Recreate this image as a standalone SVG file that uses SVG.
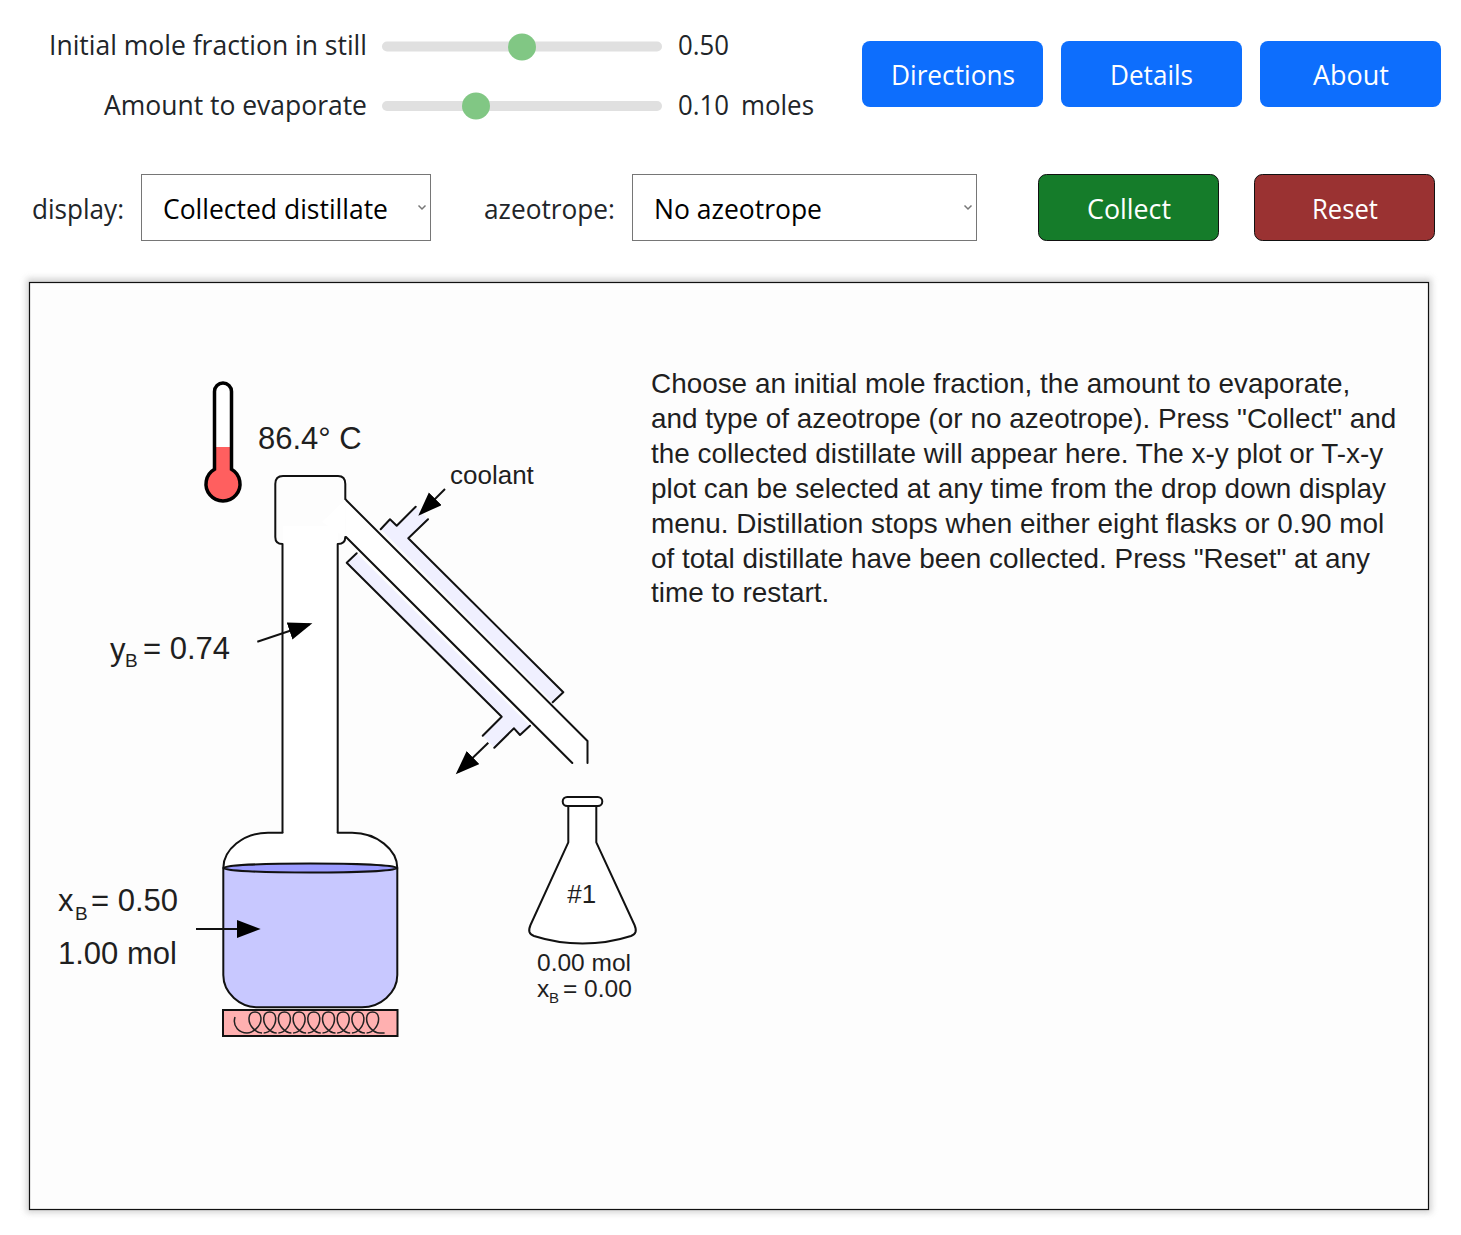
<svg xmlns="http://www.w3.org/2000/svg" width="1461" height="1235" viewBox="0 0 1461 1235">
<style>
.ui{font-family:"Open Sans","Noto Sans",sans-serif;font-size:27.5px;fill:#212529}
.sel{fill:#000}
.w{fill:#fff;text-anchor:start}
.a{font-family:"Liberation Sans",Arial,sans-serif;fill:#1f1f1f}
.f31{font-size:31px}
.f26{font-size:26px}
.f24{font-size:24.5px}
.body{font-size:27.9px}
.line{fill:none;stroke:#111;stroke-width:2;stroke-linecap:round;stroke-linejoin:round}
.jacket{fill:#f0f0ff;stroke:none}
.track{fill:#e0e0e0}
.thumb{fill:#81c784}
.selbox{fill:#fff;stroke:#767676;stroke-width:1}
.chev{fill:none;stroke:#777;stroke-width:1.5}
.blue{fill:#0d6efd}
.arrow{fill:none;stroke:#111;stroke-width:2;marker-end:url(#ah)}
</style>
<defs>
<marker id="ah" markerUnits="userSpaceOnUse" markerWidth="26" markerHeight="20" refX="21" refY="9" orient="auto">
<path d="M0,0 L24,9 L0,18 Z" fill="#000"/>
</marker>
<filter id="sh" x="-2%" y="-2%" width="104%" height="104%"><feGaussianBlur stdDeviation="3"/></filter>
</defs>
<rect width="1461" height="1235" fill="#fff"/>

<g id="slider-mole-fraction">
<text class="ui" x="49" y="54.500" textLength="318" lengthAdjust="spacingAndGlyphs">Initial mole fraction in still</text>
<rect class="track" x="382" y="41.500" width="280" height="10" rx="5"/>
<ellipse class="thumb" cx="522" cy="47" rx="14" ry="13.500"/>
<text class="ui" x="678" y="54.500" textLength="51" lengthAdjust="spacingAndGlyphs">0.50</text>
</g>
<g id="slider-evaporate">
<text class="ui" x="104" y="114.500" textLength="263" lengthAdjust="spacingAndGlyphs">Amount to evaporate</text>
<rect class="track" x="382" y="101" width="280" height="10" rx="5"/>
<ellipse class="thumb" cx="476" cy="106" rx="14" ry="13.500"/>
<text class="ui" x="678" y="114.500" textLength="51" lengthAdjust="spacingAndGlyphs">0.10</text>
<text class="ui" x="741" y="114.500" textLength="73" lengthAdjust="spacingAndGlyphs">moles</text>
</g>
<g id="btn-directions"><rect class="blue" x="862" y="41" width="181" height="66" rx="8"/><text class="ui w" x="891" y="84.500" textLength="124" lengthAdjust="spacingAndGlyphs">Directions</text></g>
<g id="btn-details"><rect class="blue" x="1061" y="41" width="181" height="66" rx="8"/><text class="ui w" x="1110" y="84.500" textLength="83" lengthAdjust="spacingAndGlyphs">Details</text></g>
<g id="btn-about"><rect class="blue" x="1260" y="41" width="181" height="66" rx="8"/><text class="ui w" x="1313" y="84.500" textLength="76" lengthAdjust="spacingAndGlyphs">About</text></g>

<g id="select-display">
<text class="ui" x="32" y="219" textLength="92" lengthAdjust="spacingAndGlyphs">display:</text>
<rect class="selbox" x="141.500" y="174.500" width="289" height="66"/>
<text class="ui sel" x="163" y="219" textLength="225" lengthAdjust="spacingAndGlyphs">Collected distillate</text>
<path class="chev" d="M418.500,205.500 L422,209 L425.500,205.500"/>
</g>
<g id="select-azeotrope">
<text class="ui" x="484" y="219" textLength="131" lengthAdjust="spacingAndGlyphs">azeotrope:</text>
<rect class="selbox" x="632.500" y="174.500" width="344" height="66"/>
<text class="ui sel" x="654" y="219" textLength="168" lengthAdjust="spacingAndGlyphs">No azeotrope</text>
<path class="chev" d="M964.500,205.500 L968,209 L971.500,205.500"/>
</g>
<g id="btn-collect"><rect x="1038.500" y="174.500" width="180" height="66" rx="8" fill="#157c2a" stroke="#111"/><text class="ui w" x="1087" y="219" textLength="84" lengthAdjust="spacingAndGlyphs">Collect</text></g>
<g id="btn-reset"><rect x="1254.500" y="174.500" width="180" height="66" rx="8" fill="#9a3232" stroke="#111"/><text class="ui w" x="1312" y="219" textLength="66" lengthAdjust="spacingAndGlyphs">Reset</text></g>

<g id="panel">
<rect x="26.500" y="278.500" width="1405" height="934" fill="#aaa" opacity="0.55" filter="url(#sh)"/>
<rect x="29.500" y="282.500" width="1399" height="927" fill="#fdfdfd" stroke="#111" stroke-width="1.2"/>
</g>

<g id="instructions" class="a body">
<text x="651" y="393">Choose an initial mole fraction, the amount to evaporate,</text>
<text x="651" y="428">and type of azeotrope (or no azeotrope). Press "Collect" and</text>
<text x="651" y="463">the collected distillate will appear here. The x-y plot or T-x-y</text>
<text x="651" y="498">plot can be selected at any time from the drop down display</text>
<text x="651" y="533">menu. Distillation stops when either eight flasks or 0.90 mol</text>
<text x="651" y="568">of total distillate have been collected. Press "Reset" at any</text>
<text x="651" y="602">time to restart.</text>
</g>

<g id="thermometer">
<path d="M214.500,469.300 V391.500 A8.500,8.500 0 0 1 231.500,391.500 V469.300 A17,17 0 1 1 214.500,469.300 Z" fill="#fff"/>
<path d="M214.500,447 H231.500 V469.300 A17,17 0 1 1 214.500,469.300 Z" fill="#ff5f5f"/>
<path d="M214.500,469.300 V391.500 A8.500,8.500 0 0 1 231.500,391.500 V469.300 A17,17 0 1 1 214.500,469.300 Z" fill="none" stroke="#000" stroke-width="3.500"/>
<text class="a f31" x="258" y="449">86.4° C</text>
</g>

<g id="condenser">
<path class="jacket" d="M380.700,529.300 L390,519.300 L396.700,525.700 L415.700,506.700 L428,519.300 L408.300,538.300 L563.300,692.300 L552.700,702.300 Z"/>
<path class="jacket" d="M356.700,553.300 L346.700,562.700 L501.700,716.700 L482.700,735.700 L494.300,747.700 L514,728.300 L520,735 L530,725.700 Z"/>
<path d="M345.300,499.300 L587.500,741 V763 H572.300 L346,537 Z" fill="#fff"/>
<path class="line" d="M380.700,529.300 L390,519.300 L396.700,525.700 L415.700,506.700"/>
<path class="line" d="M428,519.300 L408.300,538.300 L563.300,692.300 L552.700,702.300"/>
<path class="line" d="M356.700,553.300 L346.700,562.700 L501.700,716.700 L482.700,735.700"/>
<path class="line" d="M494.300,747.700 L514,728.300 L520,735 L530,725.700"/>
<path class="line" d="M345.300,499.300 L587.500,741 V763"/>
<path class="line" d="M346,537 L572.300,763"/>
</g>

<g id="column">
<path d="M282.500,544 A7.500,7.500 0 0 1 275.300,537 V484 A8,8 0 0 1 283,476 H338 A7.500,8 0 0 1 345.300,484 V537 A7.500,7.500 0 0 1 338,544 Z" fill="#fdfdfd"/>
<rect x="283" y="526" width="55" height="308" fill="#fff"/>
<path d="M345,500 L322,522 L345,537 Z" fill="#fff"/>
<path class="line" d="M282.500,833 V544 Q275.300,544 275.300,537 V484 Q275.300,476 283,476 H338 Q345.300,476 345.300,484 V499.300"/>
<path class="line" d="M337.700,833 V544 Q345.300,544 345.300,537"/>
</g>

<g id="still">
<path d="M282.500,832.700 H268 C243,832.700 223.300,850 223.300,868 V975 C223.300,993 240,1007.300 258,1007.300 H362 C380,1007.300 397.300,993 397.300,975 V868 C397.300,850 377,832.700 352,832.700 H337.700 Z" fill="#fff"/>
<path d="M223.300,868 V975 C223.300,993 240,1007.300 258,1007.300 H362 C380,1007.300 397.300,993 397.300,975 V868 Z" fill="#c8c8ff"/>
<ellipse cx="310.300" cy="868" rx="87" ry="4.500" fill="#9c9cff" stroke="#111" stroke-width="2"/>
<path class="line" d="M282.500,832.700 H268 C243,832.700 223.300,850 223.300,868 V975 C223.300,993 240,1007.300 258,1007.300 H362 C380,1007.300 397.300,993 397.300,975 V868 C397.300,850 377,832.700 352,832.700 H337.700"/>
</g>

<g id="heater">
<rect x="223" y="1010" width="174.500" height="26" fill="#ffb0b0" stroke="#111" stroke-width="2"/>
<path fill="none" stroke="#222" stroke-width="1.500" d="M235,1017 C232,1027 240,1033 247,1033 c6,0 14,-7 14,-14 c0,-5 -3,-7 -6,-7 c-4,0 -6,3 -6,7 c0,7 7,14 13,14 m1.700,0 c6,0 12,-7 12,-14 c0,-5 -3,-7 -6,-7 c-4,0 -6,3 -6,7 c0,7 7,14 13,14 m1.700,0 c6,0 12,-7 12,-14 c0,-5 -3,-7 -6,-7 c-4,0 -6,3 -6,7 c0,7 7,14 13,14 m1.700,0 c6,0 12,-7 12,-14 c0,-5 -3,-7 -6,-7 c-4,0 -6,3 -6,7 c0,7 7,14 13,14 m1.700,0 c6,0 12,-7 12,-14 c0,-5 -3,-7 -6,-7 c-4,0 -6,3 -6,7 c0,7 7,14 13,14 m1.700,0 c6,0 12,-7 12,-14 c0,-5 -3,-7 -6,-7 c-4,0 -6,3 -6,7 c0,7 7,14 13,14 m1.700,0 c6,0 12,-7 12,-14 c0,-5 -3,-7 -6,-7 c-4,0 -6,3 -6,7 c0,7 7,14 13,14 m1.700,0 c6,0 12,-7 12,-14 c0,-5 -3,-7 -6,-7 c-4,0 -6,3 -6,7 c0,7 7,14 13,14 m1.700,0 c6,0 12,-7 12,-14 c0,-5 -3,-7 -6,-7 c-4,0 -6,3 -6,7 c0,7 7,14 13,14 h5"/>
</g>

<g id="flask">
<path class="line" d="M568.300,806 V842.300 L530.500,925 C528,931 529,934 534,936 C565,946 600,946 631,936 C636,934 637,931 634.500,925 L596.300,842.300 V806" style="fill:#fff"/>
<rect class="line" x="562.700" y="797" width="39.600" height="9" rx="4.500" style="fill:#fff"/>
<text class="a f26" x="567.300" y="902.700">#1</text>
<text class="a f24" x="537" y="971">0.00 mol</text>
<text class="a f24" x="537" y="997">x</text>
<text class="a" x="549" y="1003" font-size="15">B</text>
<text class="a f24" x="563" y="997">= 0.00</text>
</g>

<g id="labels">
<text class="a f26" x="450" y="484">coolant</text>
<text class="a f31" x="110" y="660">y</text>
<text class="a" x="125" y="667" font-size="19">B</text>
<text class="a f31" x="143" y="659">= 0.74</text>
<text class="a f31" x="58" y="911">x</text>
<text class="a" x="75" y="920" font-size="19">B</text>
<text class="a f31" x="91" y="911">= 0.50</text>
<text class="a f31" x="58" y="964">1.00 mol</text>
</g>

<g id="connectors">
<line class="arrow" x1="445" y1="489" x2="420.400" y2="513.600"/>
<line class="arrow" x1="257.300" y1="641.700" x2="309.500" y2="624.300"/>
<line class="arrow" x1="488.300" y1="742.700" x2="457.900" y2="772.200"/>
<line class="arrow" x1="196" y1="929" x2="257.700" y2="929"/>
</g>
</svg>
